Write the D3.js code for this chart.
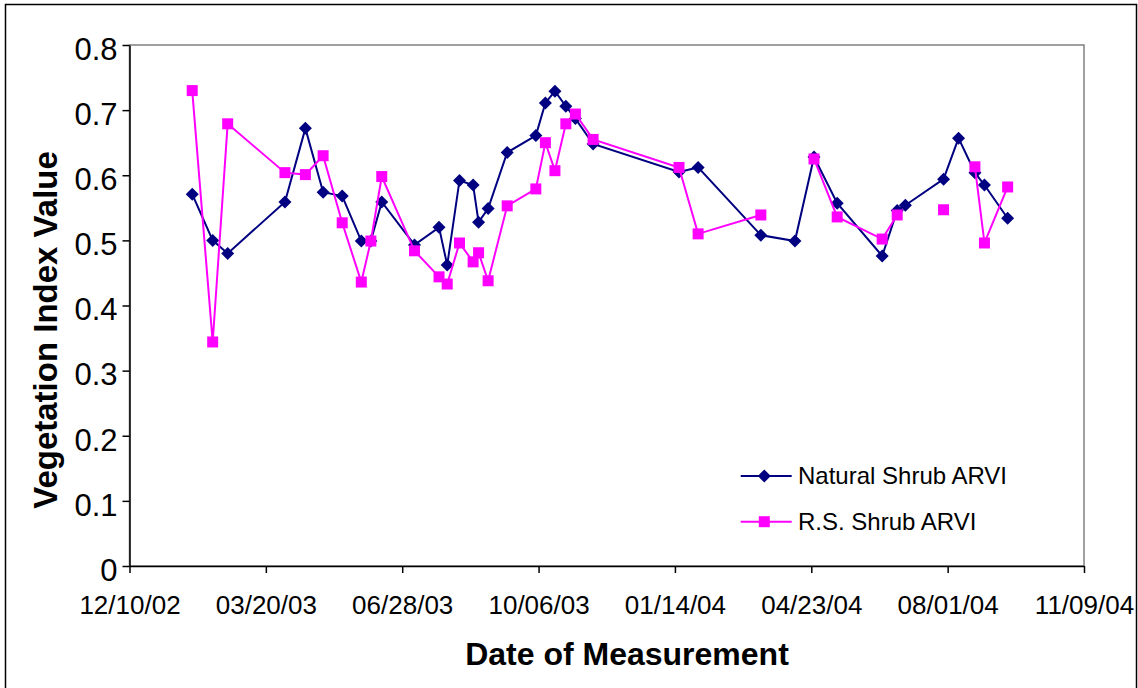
<!DOCTYPE html>
<html>
<head>
<meta charset="utf-8">
<script src="https://cdn.jsdelivr.net/npm/d3@7"></script>
<style>
  body { margin: 0; background: #fff; }
  svg { display: block; font-family: "Liberation Sans", Arial, sans-serif; }
</style>
</head>
<body>
<div id="chart"></div>
<script>
// measurement dates (mm/dd/yy)
const dates = [
  "01/25/03", "02/09/03", "02/20/03", "04/03/03", "04/18/03", "05/01/03", "05/15/03",
  "05/29/03", "06/05/03", "06/13/03", "07/07/03", "07/25/03", "07/31/03", "08/09/03",
  "08/19/03", "08/23/03", "08/30/03", "09/13/03", "10/04/03", "10/11/03", "10/18/03",
  "10/26/03", "11/02/03", "11/15/03", "01/17/04", "01/31/04", "03/17/04", "04/11/04",
  "04/25/04", "05/12/04", "06/14/04", "06/25/04", "07/01/04", "07/29/04", "08/09/04",
  "08/21/04", "08/28/04", "09/14/04"
];

const naturalShrub = [
  0.571, 0.500, 0.480, 0.559, 0.672, 0.574, 0.568,
  0.499, 0.499, 0.559, 0.493, 0.520, 0.462, 0.592,
  0.585, 0.528, 0.549, 0.635, 0.661, 0.711, 0.729,
  0.706, 0.687, 0.648, 0.605, 0.612, 0.508, 0.499,
  0.628, 0.557, 0.476, 0.546, 0.554, 0.594, 0.657,
  0.604, 0.585, 0.534
];

// null = no measurement (line breaks there)
const rsShrub = [
  0.730, 0.344, 0.679, 0.604, 0.601, 0.630, 0.527,
  0.436, 0.499, 0.598, 0.484, 0.444, 0.433, 0.496,
  0.467, 0.481, 0.438, 0.553, 0.579, 0.650, 0.607,
  0.679, 0.694, 0.655, 0.612, 0.510, 0.539, null,
  0.625, 0.536, 0.502, 0.539, null, 0.547, null,
  0.613, 0.496, 0.582
];

const seriesNames = ["Natural Shrub ARVI", "R.S. Shrub ARVI"];
const xTickLabels = ["12/10/02", "03/20/03", "06/28/03", "10/06/03", "01/14/04", "04/23/04", "08/01/04", "11/09/04"];
const yTickValues = [0, 0.1, 0.2, 0.3, 0.4, 0.5, 0.6, 0.7, 0.8];

const width = 1138;
const height = 688;
const plot = { left: 129.5, right: 1084, top: 45, bottom: 566 };

const parse = d3.utcParse("%m/%d/%y");
const fmt = d3.utcFormat("%m/%d/%y");
const xTicks = xTickLabels.map(parse);

const x = d3.scaleUtc()
  .domain([xTicks[0], xTicks[xTicks.length - 1]])
  .range([plot.left, plot.right]);

const y = d3.scaleLinear()
  .domain([0, 0.8])
  .range([plot.bottom, plot.top]);

const svg = d3.select("#chart").append("svg")
  .attr("width", width)
  .attr("height", height);

// outer chart frame
svg.append("rect")
  .attr("x", 5.5).attr("y", 4.5)
  .attr("width", 1131).attr("height", 700)
  .attr("fill", "#fff")
  .attr("stroke", "#000")
  .attr("stroke-width", 1.5);

// plot area border (gray)
svg.append("rect")
  .attr("x", plot.left).attr("y", plot.top)
  .attr("width", plot.right - plot.left).attr("height", plot.bottom - plot.top)
  .attr("fill", "none")
  .attr("stroke", "#808080")
  .attr("stroke-width", 1.5);

// axes
const yAxis = svg.append("g")
  .attr("transform", `translate(${plot.left},0)`)
  .call(d3.axisLeft(y)
    .tickValues(yTickValues)
    .tickFormat(d => d === 0 ? "0" : d3.format(".1f")(d))
    .tickSize(7)
    .tickSizeOuter(0)
    .tickPadding(5));

yAxis.selectAll("text")
  .attr("font-size", 31)
  .attr("dy", "0.46em")
  .attr("fill", "#000");

const xAxis = svg.append("g")
  .attr("transform", `translate(0,${plot.bottom})`)
  .call(d3.axisBottom(x)
    .tickValues(xTicks)
    .tickFormat(fmt)
    .tickSize(7)
    .tickSizeOuter(0));

xAxis.selectAll("text")
  .attr("font-size", 26)
  .attr("y", 48)
  .attr("dy", 0)
  .attr("fill", "#000");

svg.selectAll(".domain, .tick line")
  .attr("stroke", "#000")
  .attr("stroke-width", 1.5);
svg.selectAll(".domain").attr("fill", "none");

// axis titles
svg.append("text")
  .attr("transform", "translate(57,330) rotate(-90)")
  .attr("text-anchor", "middle")
  .attr("font-size", 33)
  .attr("font-weight", "bold")
  .text("Vegetation Index Value");

svg.append("text")
  .attr("x", 627).attr("y", 665)
  .attr("text-anchor", "middle")
  .attr("font-size", 32)
  .attr("font-weight", "bold")
  .text("Date of Measurement");

// series
const diamond = "M0,-6.5L6.5,0L0,6.5L-6.5,0Z";
const square = "M-5.5,-5.5H5.5V5.5H-5.5Z";

const series = [
  { name: seriesNames[0], values: naturalShrub, color: "#000080", marker: diamond },
  { name: seriesNames[1], values: rsShrub, color: "#FF00FF", marker: square }
];

const line = d3.line()
  .defined(d => d.v != null)
  .x(d => x(d.date))
  .y(d => y(d.v));

series.forEach(s => {
  const pts = dates.map((d, i) => ({ date: parse(d), v: s.values[i] }));
  const g = svg.append("g");
  g.append("path")
    .datum(pts)
    .attr("d", line)
    .attr("fill", "none")
    .attr("stroke", s.color)
    .attr("stroke-width", 2);
  g.selectAll("path.m")
    .data(pts.filter(p => p.v != null))
    .join("path")
    .attr("class", "m")
    .attr("d", s.marker)
    .attr("transform", p => `translate(${x(p.date)},${y(p.v)})`)
    .attr("fill", s.color);
});

// legend
const legend = svg.append("g");
series.forEach((s, i) => {
  const ly = 476 + i * 45.7;
  legend.append("line")
    .attr("x1", 740.7).attr("x2", 791.7)
    .attr("y1", ly).attr("y2", ly)
    .attr("stroke", s.color)
    .attr("stroke-width", 2);
  legend.append("path")
    .attr("d", s.marker)
    .attr("transform", `translate(764.3,${ly})`)
    .attr("fill", s.color);
  legend.append("text")
    .attr("x", 798).attr("y", ly + 8.3)
    .attr("font-size", 24)
    .text(s.name);
});
</script>
</body>
</html>
